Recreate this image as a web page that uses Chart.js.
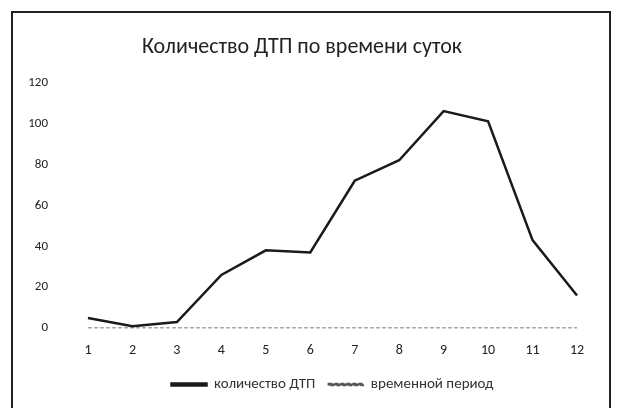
<!DOCTYPE html>
<html lang="ru">
  <head>
    <meta charset="UTF-8" />
    <title>Количество ДТП по времени суток</title>
    <script src="https://cdn.jsdelivr.net/npm/chart.js"></script>
    <style>
      html, body { margin: 0; padding: 0; background: #fff; }
      #wrap { position: relative; width: 618px; height: 408px; overflow: hidden; }
      #frame {
        position: absolute; left: 11px; top: 11px; width: 600px; height: 430px;
        border: 2px solid #222; box-sizing: border-box;
      }
      canvas { position: absolute; left: 0; top: 0; }
    </style>
  </head>
  <body>
    <div id="wrap">
      <div id="frame"></div>
      <canvas id="chart" width="618" height="408"></canvas>
    </div>
    <script>
      // data
      const hours = ["1", "2", "3", "4", "5", "6", "7", "8", "9", "10", "11", "12"];
      const accidents = [5, 1, 3, 26, 38, 37, 72, 82, 106, 101, 43, 16];
      const period = [0, 0, 0, 0, 0, 0, 0, 0, 0, 0, 0, 0];

      const font = "Carlito, 'Liberation Sans', Arial, sans-serif";

      new Chart(document.getElementById("chart"), {
        type: "line",
        data: {
          labels: hours,
          datasets: [
            {
              label: "количество ДТП",
              data: accidents,
              borderColor: "#1a1a1a",
              backgroundColor: "#1a1a1a",
              borderWidth: 2.5,
              pointRadius: 0,
              tension: 0,
            },
            {
              label: "временной период",
              data: period,
              borderColor: "#555",
              backgroundColor: "#555",
              borderWidth: 1.5,
              borderDash: [4, 2],
              pointRadius: 0,
              tension: 0,
            },
          ],
        },
        options: {
          responsive: false,
          animation: false,
          layout: { padding: { left: 27, right: 41, top: 12, bottom: 6 } },
          plugins: {
            title: {
              display: true,
              text: "Количество ДТП по времени суток",
              color: "#222",
              font: { family: font, size: 22, weight: "normal" },
              padding: { top: 22, bottom: 22 },
            },
            legend: {
              position: "bottom",
              fullSize: false,
              labels: {
                color: "#333",
                font: { family: font, size: 15 },
                boxWidth: 35,
                boxHeight: 2,
                padding: 13,
              },
            },
            tooltip: { enabled: false },
          },
          scales: {
            x: {
              offset: false,
              grid: { display: false, drawTicks: false },
              border: { display: false },
              ticks: { color: "#222", font: { family: font, size: 14 }, padding: 14 },
              afterFit: (scale) => { scale.height -= 9; },
            },
            y: {
              min: 0,
              max: 120,
              grid: { display: false, drawTicks: false },
              border: { display: false },
              ticks: { stepSize: 20, color: "#222", font: { family: font, size: 13 }, padding: 40 },
              afterFit: (scale) => { scale.width = 61; },
            },
          },
        },
      });
    </script>
  </body>
</html>
